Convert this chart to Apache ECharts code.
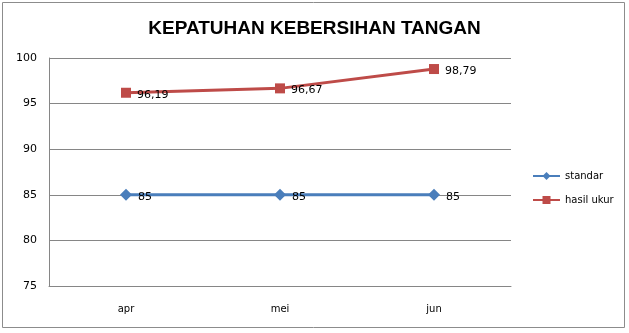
<!DOCTYPE html>
<html><head><meta charset="utf-8">
<script src="https://cdn.jsdelivr.net/npm/echarts@6/dist/echarts.min.js"></script>
<style>html,body{margin:0;padding:0;background:#fff}#c{width:629px;height:333px}</style>
</head><body><div id="c"></div>
<script>
const categories = ['apr', 'mei', 'jun'];
const standar = [85, 85, 85];
const hasilUkur = [96.19, 96.67, 98.79];
const yTicks = [75, 80, 85, 90, 95, 100];

const chart = echarts.init(document.getElementById('c'), null, {renderer: 'canvas'});
const fmt = p => String(p.value).replace('.', ',');
const labelStyle = {show: true, position: 'right', distance: 6, offset: [0, 2], formatter: fmt,
  color: '#000', fontFamily: 'DejaVu Sans', fontSize: 11};
chart.setOption({
  animation: false,
  title: {text: 'KEPATUHAN KEBERSIHAN TANGAN', left: 'center', top: 14,
    textStyle: {fontFamily: 'Liberation Sans', fontWeight: 'bold', fontSize: 19, color: '#000'}},
  graphic: [{type: 'rect', shape: {x: 2.5, y: 2.5, width: 622, height: 325},
    style: {fill: 'none', stroke: '#8c8c8c', lineWidth: 1}, silent: true}],
  legend: {orient: 'vertical', left: 532, top: 171, padding: 0, itemGap: 14, itemWidth: 27, itemHeight: 10,
    textStyle: {fontFamily: 'DejaVu Sans', fontSize: 10, color: '#000'},
    data: ['standar', 'hasil ukur']},
  grid: {left: 49, right: 118, top: 58, bottom: 47},
  xAxis: {type: 'category', data: categories, boundaryGap: true,
    axisLine: {lineStyle: {color: '#868686'}}, axisTick: {show: false},
    axisLabel: {margin: 18, fontFamily: 'DejaVu Sans', fontSize: 10, color: '#000'}},
  yAxis: {type: 'value', min: yTicks[0], max: yTicks[yTicks.length - 1], interval: 5,
    axisLine: {show: true, lineStyle: {color: '#868686'}}, axisTick: {show: false},
    splitLine: {lineStyle: {color: '#868686'}},
    axisLabel: {margin: 12, fontFamily: 'DejaVu Sans', fontSize: 11, color: '#000'}},
  series: [
    {name: 'standar', type: 'line', data: standar, symbol: 'diamond', symbolSize: 12,
      itemStyle: {color: '#4a7ebb'}, lineStyle: {width: 3, color: '#4a7ebb'}, label: labelStyle},
    {name: 'hasil ukur', type: 'line', data: hasilUkur, symbol: 'rect', symbolSize: 10,
      itemStyle: {color: '#be4b48'}, lineStyle: {width: 3, color: '#be4b48'}, label: labelStyle}
  ]
});
</script></body></html>
